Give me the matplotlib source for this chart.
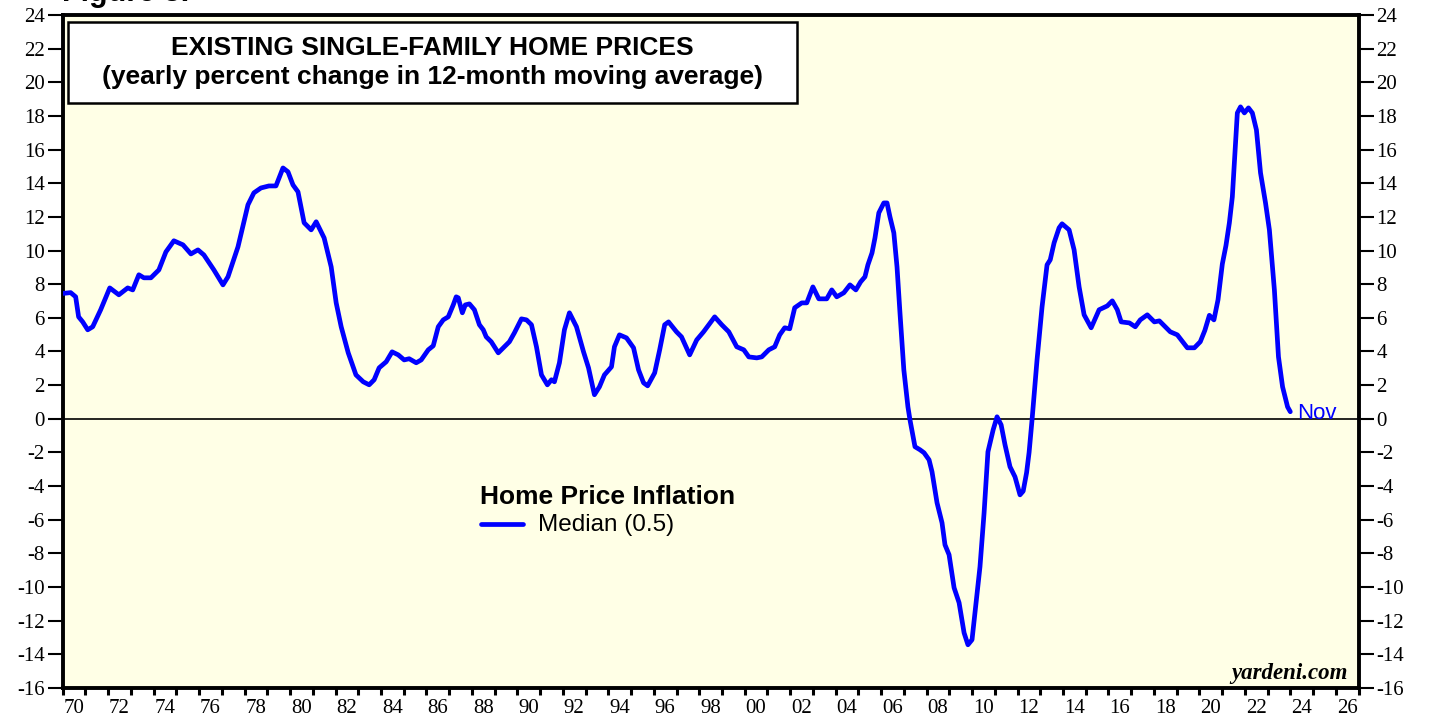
import matplotlib
matplotlib.use("Agg")
import matplotlib.pyplot as plt
from matplotlib.patches import Rectangle
from matplotlib.lines import Line2D

# ---- data ----
years = [1970.0, 1970.35, 1970.57, 1970.7, 1970.88, 1971.1, 1971.32, 1971.67, 1971.89, 1972.07,
         1972.47, 1972.86, 1973.08, 1973.35, 1973.57, 1973.88, 1974.23, 1974.54, 1974.89, 1975.29,
         1975.64, 1975.95, 1976.21, 1976.65, 1977.05, 1977.27, 1977.71, 1978.15, 1978.41, 1978.72,
         1979.07, 1979.38, 1979.69, 1979.91, 1980.13, 1980.35, 1980.62, 1980.93, 1981.15, 1981.5,
         1981.81, 1982.03, 1982.25, 1982.56, 1982.9, 1983.22, 1983.48, 1983.7, 1983.92, 1984.23,
         1984.49, 1984.76, 1985.02, 1985.24, 1985.55, 1985.77, 1986.08, 1986.3, 1986.52, 1986.74,
         1986.96, 1987.18, 1987.31, 1987.4, 1987.58, 1987.71, 1987.89, 1988.11, 1988.33, 1988.5,
         1988.63, 1988.85, 1989.16, 1989.38, 1989.65, 1989.87, 1990.18, 1990.4, 1990.62, 1990.84,
         1991.06, 1991.32, 1991.5, 1991.63, 1991.85, 1992.07, 1992.29, 1992.6, 1992.91, 1993.13,
         1993.39, 1993.61, 1993.83, 1994.14, 1994.27, 1994.49, 1994.8, 1995.11, 1995.33, 1995.55,
         1995.73, 1996.04, 1996.26, 1996.48, 1996.65, 1997.0, 1997.22, 1997.58, 1997.89, 1998.19,
         1998.68, 1998.99, 1999.3, 1999.65, 1999.96, 2000.18, 2000.53, 2000.75, 2001.06, 2001.32,
         2001.54, 2001.76, 2001.98, 2002.2, 2002.51, 2002.73, 2003.0, 2003.26, 2003.61, 2003.83,
         2004.05, 2004.36, 2004.63, 2004.89, 2005.1, 2005.29, 2005.42, 2005.6, 2005.73, 2005.9,
         2006.12, 2006.26, 2006.39, 2006.56, 2006.7, 2006.83, 2007.0, 2007.18, 2007.27, 2007.49,
         2007.71, 2007.89, 2008.11, 2008.24, 2008.46, 2008.68, 2008.81, 2008.99, 2009.21, 2009.43,
         2009.65, 2009.82, 2010.0, 2010.13, 2010.35, 2010.53, 2010.7, 2010.93, 2011.1, 2011.28,
         2011.45, 2011.67, 2011.89, 2012.11, 2012.25, 2012.4, 2012.51, 2012.64, 2012.86, 2013.08,
         2013.3, 2013.44, 2013.61, 2013.83, 2013.96, 2014.27, 2014.49, 2014.71, 2014.93, 2015.24,
         2015.59, 2015.95, 2016.17, 2016.39, 2016.56, 2016.92, 2017.18, 2017.4, 2017.71, 2018.02,
         2018.24, 2018.5, 2018.72, 2019.03, 2019.47, 2019.78, 2020.04, 2020.24, 2020.44, 2020.64,
         2020.82, 2021.01, 2021.17, 2021.32, 2021.45, 2021.59, 2021.67, 2021.81, 2021.98, 2022.16,
         2022.33, 2022.51, 2022.69, 2022.91, 2023.08, 2023.3, 2023.48, 2023.66, 2023.88, 2024.0]
median_pct = [7.45, 7.5, 7.25, 6.06, 5.76, 5.29, 5.47, 6.48, 7.19, 7.78,
              7.37, 7.78, 7.66, 8.56, 8.38, 8.38, 8.85, 9.92, 10.58, 10.34,
              9.8, 10.04, 9.74, 8.85, 7.96, 8.44, 10.22, 12.72, 13.43, 13.72,
              13.84, 13.84, 14.91, 14.68, 13.9, 13.49, 11.65, 11.23, 11.71, 10.75,
              9.03, 6.89, 5.47, 3.92, 2.61, 2.2, 2.02, 2.32, 3.03, 3.39,
              3.98, 3.8, 3.5, 3.57, 3.33, 3.5, 4.1, 4.34, 5.47, 5.88,
              6.06, 6.77, 7.25, 7.19, 6.3, 6.77, 6.83, 6.48, 5.59, 5.29,
              4.87, 4.58, 3.92, 4.22, 4.58, 5.11, 5.94, 5.88, 5.59, 4.28,
              2.61, 2.02, 2.32, 2.2, 3.33, 5.29, 6.3, 5.47, 3.98, 3.03,
              1.43, 1.9, 2.61, 3.09, 4.28, 4.99, 4.81, 4.22, 2.91, 2.14,
              1.96, 2.73, 4.1, 5.59, 5.76, 5.17, 4.87, 3.8, 4.69, 5.17,
              6.06, 5.59, 5.17, 4.28, 4.1, 3.68, 3.62, 3.68, 4.1, 4.28,
              4.99, 5.41, 5.35, 6.6, 6.89, 6.89, 7.84, 7.13, 7.13, 7.66,
              7.25, 7.49, 7.96, 7.66, 8.14, 8.44, 9.15, 9.86, 10.75, 12.24,
              12.83, 12.83, 12.0, 11.05, 9.03, 6.3, 2.91, 0.71, -0.06, -1.66,
              -1.84, -2.02, -2.44, -3.15, -4.99, -6.18, -7.49, -8.08, -10.04, -10.93,
              -12.72, -13.43, -13.13, -11.53, -8.79, -5.59, -1.96, -0.65, 0.12, -0.36,
              -1.54, -2.85, -3.45, -4.52, -4.3, -3.2, -2.0, -0.06, 3.51, 6.65,
              9.15, 9.45, 10.46, 11.35, 11.59, 11.23, 10.04, 7.84, 6.18, 5.41,
              6.48, 6.71, 7.01, 6.48, 5.76, 5.7, 5.47, 5.88, 6.18, 5.76,
              5.82, 5.47, 5.17, 4.99, 4.22, 4.22, 4.58, 5.25, 6.15, 5.88,
              7.07, 9.2, 10.3, 11.65, 13.19, 16.4, 18.18, 18.54, 18.18, 18.48,
              18.18, 17.17, 14.62, 12.83, 11.23, 7.66, 3.68, 1.9, 0.71, 0.42]

x_labels = ["70", "72", "74", "76", "78", "80", "82", "84", "86", "88", "90", "92", "94",
            "96", "98", "00", "02", "04", "06", "08", "10", "12", "14", "16", "18", "20",
            "22", "24", "26"]
y_ticks = list(range(-16, 25, 2))

BLUE = "#0000FF"
BG = "#FFFFE6"

fig = plt.figure(figsize=(14.29, 7.19), dpi=100)
fig.patch.set_facecolor("white")
W, H = 1429, 719
L, R, T, B = 62.7, 1358.5, 15, 688
ax = fig.add_axes([L / W, 1 - B / H, (R - L) / W, (B - T) / H])
ax.set_facecolor(BG)
ax.set_xlim(1970, 2027)
ax.set_ylim(-16, 24)

ax.axhline(0, color="black", lw=1.2, zorder=2)
ax.plot(years, median_pct, color=BLUE, lw=3.4, solid_joinstyle="round",
        solid_capstyle="round", zorder=3)

# spines
for s in ax.spines.values():
    s.set_linewidth(2.8)
    s.set_color("black")

# y ticks both sides
ax.set_yticks(y_ticks)
ax.set_yticklabels([str(v) for v in y_ticks])
ax.tick_params(axis="y", which="major", direction="out", length=11, width=1.5,
               left=True, right=True, labelleft=True, labelright=True, pad=2,
               labelsize=15)
# x ticks every year, labels centered on even years
ax.set_xticks(list(range(1970, 2028)))
ax.set_xticklabels([])
ax.tick_params(axis="x", which="major", direction="out", length=5, width=2.2)
ax.set_xticks([1970 + 2 * i + 0.5 for i in range(len(x_labels))], minor=True)
ax.set_xticklabels(x_labels, minor=True)
ax.tick_params(axis="x", which="minor", length=0, pad=8, labelsize=15)
for lab in ax.xaxis.get_ticklabels(which="both") + ax.yaxis.get_ticklabels(which="both"):
    lab.set_family("Liberation Serif")
for t in ax.yaxis.get_major_ticks():
    t.label1.set_family("Liberation Serif")
    t.label2.set_family("Liberation Serif")

def axfx(px):
    return (px - L) / (R - L)

def axfy(py):
    return 1 - (py - T) / (B - T)

# title box
ax.add_patch(Rectangle((axfx(68), axfy(103)), axfx(797) - axfx(68), axfy(22) - axfy(103),
                       transform=ax.transAxes, facecolor="white", edgecolor="black",
                       lw=1.8, zorder=5))
ax.text(axfx(432), axfy(48), "EXISTING SINGLE-FAMILY HOME PRICES", transform=ax.transAxes,
        ha="center", va="center", fontsize=19, fontweight="bold",
        family="Liberation Sans", zorder=6)
ax.text(axfx(432), axfy(77), "(yearly percent change in 12-month moving average)",
        transform=ax.transAxes, ha="center", va="center", fontsize=19, fontweight="bold",
        family="Liberation Sans", zorder=6)

# legend
ax.text(axfx(480), axfy(497), "Home Price Inflation", transform=ax.transAxes,
        ha="left", va="center", fontsize=19, fontweight="bold", family="Liberation Sans")
ax.add_line(Line2D([axfx(481), axfx(523)], [axfy(524), axfy(524)], transform=ax.transAxes,
                   color=BLUE, lw=3.4, solid_capstyle="round"))
ax.text(axfx(538), axfy(525), "Median (0.5)", transform=ax.transAxes,
        ha="left", va="center", fontsize=17.5, family="Liberation Sans")

# Nov label
ax.annotate("Nov", xy=(years[-1], median_pct[-1]), xytext=(5, -1),
            textcoords="offset points", ha="left", va="center", color=BLUE,
            fontsize=16, family="Liberation Sans")

# yardeni.com
ax.text(axfx(1348), axfy(673), "yardeni.com", transform=ax.transAxes, ha="right",
        va="center", fontsize=16.5, fontweight="bold", style="italic",
        family="Liberation Serif")

# clipped figure caption at top
fig.text(62 / W, 1 - 1.5 / H, "Figure 3.", ha="left", va="baseline", fontsize=22,
         fontweight="bold", family="Liberation Sans")

fig.savefig("out.png", dpi=100)
